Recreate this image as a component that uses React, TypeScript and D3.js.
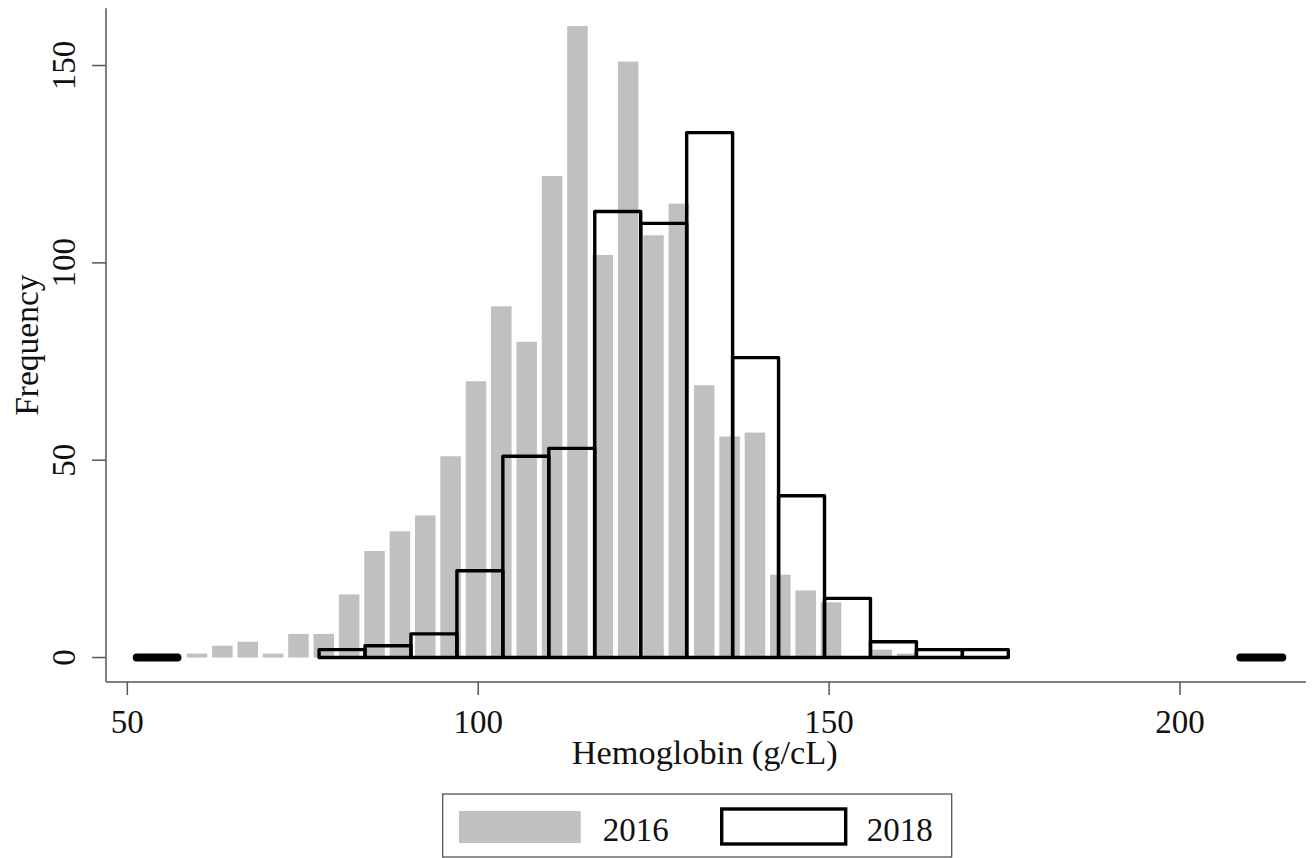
import React from "react";
import * as d3 from "d3";

// ---- data ----
const counts2016 = [1, 3, 4, 1, 6, 6, 16, 27, 32, 36, 51, 70, 89, 80, 122, 160, 102, 151, 107, 115, 69, 56, 57, 21, 17, 14, 0, 2, 1];
const binStart2016 = 58.12;
const binWidth2016 = 3.614;

const counts2018 = [2, 3, 6, 22, 51, 53, 113, 110, 133, 76, 41, 15, 4, 2, 2];
const binStart2018 = 77.32;
const binWidth2018 = 6.548;

// zero-height range markers (x from, x to)
const zeroMarks: [number, number][] = [
  [51.33, 57.14],
  [208.6, 214.58],
];

const xTicks = [50, 100, 150, 200];
const yTicks = [0, 50, 100, 150];
const xTitle = "Hemoglobin (g/cL)";
const yTitle = "Frequency";
const legendLabels = ["2016", "2018"];

const W = 1312;
const H = 858;
const FONT = "'Liberation Serif', 'Times New Roman', serif";
const GRAY = "#c0c0c0";
const AXIS = "#555555";

export default function App() {
  const x = d3.scaleLinear().domain([46.96, 217.96]).range([106, 1306]);
  const y = d3.scaleLinear().domain([-6.2, 164.5]).range([682, 8.3]);

  const gapFrac = 0.81;
  const bars2016 = counts2016.map((c, i) => {
    const lo = binStart2016 + i * binWidth2016;
    const hi = lo + binWidth2016;
    const mid = (lo + hi) / 2;
    const half = (binWidth2016 * gapFrac) / 2;
    return { x0: x(mid - half), x1: x(mid + half), y0: y(0), y1: y(c) };
  });

  const bars2018 = counts2018.map((c, i) => {
    const lo = binStart2018 + i * binWidth2018;
    const hi = lo + binWidth2018;
    return { x0: x(lo), x1: x(hi), y0: y(0), y1: y(c) };
  });

  return (
    <svg
      width={W}
      height={H}
      style={{ position: "absolute", left: 0, top: 0, background: "#fff" }}
      fontFamily={FONT}
    >
      <rect x={0} y={0} width={W} height={H} fill="#fff" />
      {/* 2016 bars */}
      {bars2016.map((b, i) =>
        b.y0 - b.y1 > 0 ? (
          <rect key={"g" + i} x={b.x0} y={b.y1} width={b.x1 - b.x0} height={b.y0 - b.y1} fill={GRAY} />
        ) : null
      )}
      {/* 2018 outlined bars */}
      {bars2018.map((b, i) => (
        <rect
          key={"b" + i}
          x={b.x0}
          y={b.y1}
          width={b.x1 - b.x0}
          height={b.y0 - b.y1}
          fill="none"
          stroke="#000"
          strokeWidth={3.4}
          strokeLinejoin="round"
        />
      ))}
      {/* zero markers */}
      {zeroMarks.map((m, i) => (
        <line
          key={"z" + i}
          x1={x(m[0])}
          x2={x(m[1])}
          y1={y(0)}
          y2={y(0)}
          stroke="#000"
          strokeWidth={8}
          strokeLinecap="round"
        />
      ))}
      {/* axes */}
      <line x1={106} x2={106} y1={y.range()[1]} y2={682} stroke={AXIS} strokeWidth={1.5} />
      <line x1={106} x2={x.range()[1]} y1={682} y2={682} stroke={AXIS} strokeWidth={1.5} />
      {yTicks.map((t) => (
        <g key={"yt" + t}>
          <line x1={92} x2={106} y1={y(t)} y2={y(t)} stroke={AXIS} strokeWidth={1.5} />
          <text
            transform={`translate(75,${y(t)}) rotate(-90)`}
            textAnchor="middle"
            fontSize={33}
            fill="#111"
          >
            {t}
          </text>
        </g>
      ))}
      {xTicks.map((t) => (
        <g key={"xt" + t}>
          <line x1={x(t)} x2={x(t)} y1={682} y2={695} stroke={AXIS} strokeWidth={1.5} />
          <text x={x(t)} y={733} textAnchor="middle" fontSize={33} fill="#111">
            {t}
          </text>
        </g>
      ))}
      <text x={704.7} y={764} textAnchor="middle" fontSize={34.3} fill="#111">
        {xTitle}
      </text>
      <text transform={`translate(38,${(8.3 + 682) / 2}) rotate(-90)`} textAnchor="middle" fontSize={33.5} fill="#111">
        {yTitle}
      </text>
      {/* legend */}
      <rect x={442.7} y={794} width={509} height={63} fill="#fff" stroke={AXIS} strokeWidth={1.3} />
      <rect x={459} y={811} width={121.7} height={32} fill={GRAY} />
      <text x={602.7} y={841} fontSize={33} fill="#111">
        {legendLabels[0]}
      </text>
      <rect x={721.7} y={809} width={124} height={35} fill="#fff" stroke="#000" strokeWidth={3.4} />
      <text x={866.7} y={841} fontSize={33} fill="#111">
        {legendLabels[1]}
      </text>
    </svg>
  );
}
